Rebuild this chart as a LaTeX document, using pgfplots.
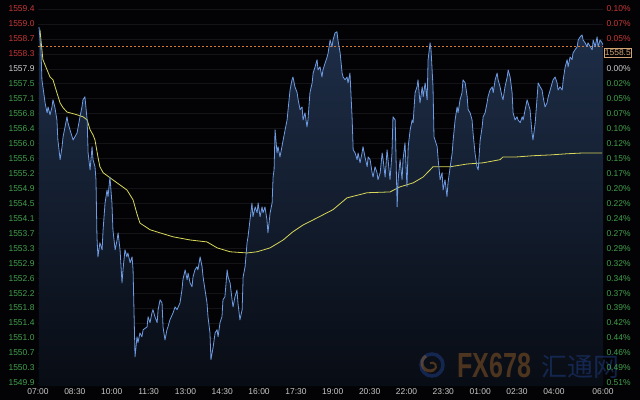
\documentclass[border=0pt]{standalone}
\usepackage{fontspec}
\setmainfont{Liberation Sans}
\newfontfamily\cjk{Noto Sans CJK SC}
\usepackage{pgfplots}
\pgfplotsset{compat=1.18}
\usepackage{pgfplotstable}
\definecolor{bg}{RGB}{3,3,5}
\definecolor{pricecol}{RGB}{110,155,225}
\definecolor{avgcol}{RGB}{215,215,90}
\definecolor{upcol}{RGB}{200,55,55}
\definecolor{dncol}{RGB}{65,160,75}
\definecolor{neutral}{RGB}{205,205,205}
\definecolor{xlab}{RGB}{200,200,200}
\definecolor{gridc}{RGB}{20,20,24}
\definecolor{areatop}{RGB}{30,46,72}
\definecolor{areabot}{RGB}{8,12,20}
\definecolor{lastcol}{RGB}{215,120,50}
\definecolor{boxcol}{RGB}{210,165,115}
\definecolor{wmorange}{RGB}{160,100,40}
\definecolor{wmblue}{RGB}{35,70,150}

\pgfplotstableread{
h v
0.04 1558.94
0.12 1558.36
0.16 1557.60
0.20 1557.42
0.29 1557.01
0.37 1556.76
0.41 1556.91
0.49 1556.71
0.57 1556.91
0.61 1557.09
0.69 1556.89
0.77 1556.58
0.81 1556.07
0.90 1555.57
0.98 1555.90
1.02 1556.15
1.10 1556.40
1.18 1556.66
1.22 1556.51
1.30 1556.33
1.43 1556.07
1.59 1556.25
1.71 1556.66
1.79 1556.91
1.83 1557.09
1.91 1557.17
2.00 1556.58
2.04 1555.74
2.12 1555.31
2.20 1555.90
2.24 1555.57
2.32 1555.39
2.36 1555.06
2.40 1553.61
2.44 1553.10
2.52 1553.46
2.61 1553.28
2.65 1553.79
2.73 1554.47
2.81 1554.80
2.85 1554.63
2.93 1555.13
3.01 1554.47
3.05 1553.79
3.14 1553.28
3.22 1553.53
3.26 1553.71
3.34 1553.28
3.42 1552.44
3.46 1552.77
3.54 1553.28
3.62 1553.10
3.66 1553.20
3.75 1552.95
3.83 1553.10
3.87 1552.77
3.95 1550.56
4.03 1551.07
4.07 1550.92
4.15 1551.17
4.23 1551.07
4.28 1551.25
4.44 1551.32
4.48 1551.58
4.56 1551.43
4.64 1551.68
4.68 1551.76
4.76 1551.58
4.85 1551.43
4.89 1551.76
4.97 1552.01
5.05 1551.93
5.09 1551.32
5.17 1550.99
5.25 1551.25
5.29 1551.32
5.37 1551.50
5.50 1551.68
5.58 1551.83
5.66 1551.76
5.78 1551.93
5.86 1552.26
5.90 1552.52
5.99 1552.77
6.07 1552.52
6.11 1552.69
6.19 1552.44
6.27 1552.34
6.31 1552.59
6.39 1552.77
6.47 1552.85
6.51 1552.77
6.60 1553.10
6.68 1552.85
6.72 1552.59
6.80 1552.26
6.88 1551.93
6.92 1551.58
7.00 1551.17
7.04 1550.49
7.13 1550.81
7.21 1551.17
7.29 1551.25
7.33 1551.07
7.41 1551.43
7.49 1551.58
7.53 1552.01
7.61 1552.09
7.70 1552.77
7.74 1552.59
7.82 1552.44
7.90 1552.01
7.94 1551.83
8.02 1552.09
8.10 1552.26
8.14 1551.93
8.22 1551.50
8.31 1551.76
8.35 1552.59
8.43 1552.85
8.51 1553.46
8.55 1553.61
8.63 1554.04
8.71 1554.47
8.75 1554.12
8.84 1554.37
8.92 1554.22
8.96 1554.47
9.04 1554.12
9.12 1554.37
9.16 1554.22
9.24 1554.37
9.32 1554.04
9.36 1553.71
9.45 1554.22
9.53 1554.47
9.57 1555.13
9.61 1555.31
9.65 1556.33
9.73 1555.74
9.77 1555.90
9.85 1555.64
9.93 1555.90
9.98 1556.07
10.06 1556.33
10.14 1556.58
10.18 1556.84
10.26 1557.34
10.34 1557.60
10.38 1557.67
10.46 1557.42
10.55 1557.27
10.59 1557.09
10.67 1556.84
10.75 1556.91
10.79 1556.58
10.87 1556.76
10.95 1556.40
10.99 1556.58
11.07 1557.27
11.16 1557.52
11.20 1557.77
11.28 1557.93
11.36 1558.11
11.40 1557.85
11.48 1557.93
11.56 1557.67
11.60 1557.85
11.69 1558.03
11.77 1558.18
11.81 1558.28
11.89 1558.61
11.97 1558.44
12.01 1558.61
12.09 1558.79
12.17 1558.82
12.21 1558.61
12.30 1558.28
12.38 1557.77
12.42 1557.67
12.50 1557.60
12.58 1557.67
12.62 1557.52
12.70 1557.77
12.79 1556.58
12.83 1555.82
12.91 1555.74
12.99 1555.57
13.03 1555.74
13.11 1555.49
13.19 1555.74
13.23 1555.90
13.31 1555.64
13.40 1555.39
13.44 1555.64
13.52 1555.57
13.60 1555.24
13.64 1555.13
13.72 1555.39
13.80 1555.24
13.84 1555.06
13.93 1555.24
14.01 1555.74
14.05 1555.57
14.13 1555.13
14.21 1555.82
14.25 1555.57
14.33 1555.06
14.41 1555.74
14.45 1556.66
14.54 1556.58
14.62 1554.37
14.66 1555.06
14.74 1555.57
14.82 1555.06
14.86 1555.57
14.94 1556.00
15.02 1554.88
15.07 1555.90
15.15 1556.33
15.23 1556.58
15.27 1556.51
15.35 1557.27
15.43 1557.42
15.47 1557.60
15.55 1557.01
15.64 1557.42
15.68 1557.17
15.76 1557.52
15.84 1557.09
15.88 1558.11
15.96 1558.54
16.00 1558.36
16.08 1557.42
16.12 1556.15
16.25 1555.90
16.29 1555.57
16.37 1555.06
16.45 1555.24
16.49 1554.80
16.57 1555.06
16.65 1554.63
16.69 1554.98
16.78 1555.39
16.86 1555.74
16.90 1556.07
16.98 1556.58
17.06 1556.91
17.10 1556.76
17.18 1557.09
17.26 1557.27
17.30 1557.60
17.39 1557.52
17.47 1557.17
17.51 1556.84
17.59 1556.76
17.67 1556.58
17.71 1556.25
17.79 1555.74
17.87 1555.39
17.92 1555.31
18.00 1556.07
18.08 1556.40
18.12 1556.66
18.20 1556.76
18.28 1557.01
18.32 1557.17
18.40 1557.34
18.49 1557.42
18.53 1557.27
18.61 1557.60
18.69 1557.77
18.73 1557.60
18.81 1557.42
18.89 1557.17
18.93 1557.09
19.01 1557.42
19.10 1557.67
19.14 1557.85
19.22 1557.67
19.30 1557.27
19.34 1556.76
19.42 1556.58
19.50 1556.66
19.54 1556.58
19.63 1556.51
19.71 1556.66
19.75 1556.58
19.83 1556.84
19.91 1557.09
19.95 1557.01
20.03 1556.84
20.11 1556.25
20.15 1556.07
20.24 1556.51
20.32 1557.17
20.36 1557.52
20.44 1557.42
20.52 1557.34
20.56 1557.17
20.64 1556.91
20.72 1557.01
20.77 1557.17
20.85 1557.34
20.93 1557.52
20.97 1557.60
21.05 1557.67
21.13 1557.52
21.17 1557.34
21.25 1557.42
21.34 1557.34
21.38 1557.60
21.46 1557.93
21.54 1558.11
21.58 1557.93
21.66 1558.18
21.74 1558.11
21.78 1558.28
21.86 1558.36
21.95 1558.44
21.99 1558.61
22.07 1558.69
22.15 1558.74
22.19 1558.61
22.27 1558.54
22.35 1558.44
22.39 1558.54
22.48 1558.44
22.56 1558.36
22.60 1558.61
22.68 1558.44
22.76 1558.69
22.80 1558.44
22.88 1558.61
22.96 1558.54
23.00 1558.49
}\pricedata

\pgfplotstableread{
h v
0.08 1558.87
0.16 1558.36
0.20 1558.11
0.37 1557.85
0.49 1557.67
0.61 1557.60
0.77 1557.27
0.90 1557.01
1.02 1556.89
1.18 1556.78
1.30 1556.76
1.59 1556.71
1.83 1556.66
2.00 1556.58
2.12 1556.33
2.24 1556.20
2.32 1556.07
2.44 1555.64
2.52 1555.39
2.65 1555.24
2.93 1555.11
3.22 1554.98
3.62 1554.80
3.87 1554.55
4.03 1554.19
4.15 1553.96
4.56 1553.79
4.97 1553.71
5.50 1553.61
6.19 1553.53
6.88 1553.48
7.29 1553.33
7.82 1553.23
8.51 1553.20
8.92 1553.23
9.45 1553.33
9.98 1553.53
10.38 1553.74
10.79 1553.91
11.20 1554.04
12.01 1554.30
12.58 1554.60
13.40 1554.73
14.33 1554.75
14.74 1554.88
15.27 1554.98
15.68 1555.13
15.96 1555.31
16.08 1555.39
16.78 1555.39
17.47 1555.46
18.12 1555.49
18.81 1555.57
18.93 1555.64
19.50 1555.64
20.15 1555.67
20.85 1555.69
21.54 1555.72
22.19 1555.74
22.96 1555.74
}\avgdata

\begin{document}
\begin{tikzpicture}
\fill[bg] (0,0) rectangle (640bp,400bp);
\begin{axis}[
  at={(38bp,14bp)}, anchor=south west,
  scale only axis, width=565bp, height=383bp,
  xmin=0, xmax=23, ymin=1549.82, ymax=1559.55,
  axis line style={draw=none},
  major tick length=0pt,
  tick label style={font=\fontsize{8.5}{10}\selectfont},
  xtick={0,1.5,3,4.5,6,7.5,9,10.5,12,13.5,15,16.5,18,19.5,21,23},
  xticklabels={07:00,08:30,10:00,11:30,13:00,14:30,16:00,17:30,19:00,20:30,22:00,23:30,01:00,02:30,04:00,06:00},
  xticklabel style={text=xlab, yshift=1bp},
  ytick={1559.40,1559.02,1558.64,1558.26,1557.88,1557.50,1557.12,1556.74,1556.36,1555.98,1555.60,1555.22,1554.84,1554.46,1554.08,1553.70,1553.32,1552.94,1552.56,1552.18,1551.80,1551.42,1551.04,1550.66,1550.28,1549.90},
  yticklabels={{\textcolor{upcol}{1559.4}},{\textcolor{upcol}{1559.0}},{\textcolor{upcol}{1558.7}},{\textcolor{upcol}{1558.3}},{\textcolor{neutral}{1557.9}},{\textcolor{dncol}{1557.5}},{\textcolor{dncol}{1557.1}},{\textcolor{dncol}{1556.8}},{\textcolor{dncol}{1556.4}},{\textcolor{dncol}{1556.0}},{\textcolor{dncol}{1555.6}},{\textcolor{dncol}{1555.2}},{\textcolor{dncol}{1554.9}},{\textcolor{dncol}{1554.5}},{\textcolor{dncol}{1554.1}},{\textcolor{dncol}{1553.7}},{\textcolor{dncol}{1553.3}},{\textcolor{dncol}{1552.9}},{\textcolor{dncol}{1552.6}},{\textcolor{dncol}{1552.2}},{\textcolor{dncol}{1551.8}},{\textcolor{dncol}{1551.4}},{\textcolor{dncol}{1551.0}},{\textcolor{dncol}{1550.7}},{\textcolor{dncol}{1550.3}},{\textcolor{dncol}{1549.9}}},
  ymajorgrids, grid style={gridc, line width=0.4pt},
]
\addplot[draw=none, top color=areatop, bottom color=areabot] table[x=h, y=v] {\pricedata} -- (axis cs:23,1549.82) -- (axis cs:0.04,1549.82) -- cycle;
\addplot[lastcol, dash pattern=on 2bp off 2bp, line width=0.6pt] coordinates {(0,1558.45) (23,1558.45)};
\addplot[avgcol, line width=0.8bp, line join=round] table[x=h, y=v] {\avgdata};
\addplot[pricecol, line width=0.8bp, line join=round] table[x=h, y=v] {\pricedata};
\end{axis}
% watermark
\begin{scope}[opacity=0.45]
\draw[wmblue, line width=3.5bp] (432bp,35bp) circle (11bp);
\draw[wmorange, line width=3bp] (426bp,44bp) arc[start angle=120, end angle=300, radius=8bp];
\draw[wmorange, line width=2bp] (434bp,30bp) arc[start angle=-60, end angle=120, radius=4bp];
\node[anchor=base west, inner sep=0, text=wmorange] at (457bp,23bp) {\scalebox{0.72}[1]{\fontsize{35}{35}\selectfont\bfseries FX678}};
\node[anchor=base west, inner sep=0, text=wmblue] at (541bp,24bp) {\cjk\fontsize{26}{26}\selectfont 汇通网};
\end{scope}
\begin{axis}[
  at={(38bp,14bp)}, anchor=south west,
  scale only axis, width=565bp, height=383bp,
  xmin=0, xmax=23, ymin=1549.82, ymax=1559.55,
  axis line style={draw=none},
  major tick length=0pt,
  tick label style={font=\fontsize{8.5}{10}\selectfont},
  xtick=\empty,
  yticklabel pos=right,
  ytick={1559.40,1559.02,1558.64,1557.88,1557.50,1557.12,1556.74,1556.36,1555.98,1555.60,1555.22,1554.84,1554.46,1554.08,1553.70,1553.32,1552.94,1552.56,1552.18,1551.80,1551.42,1551.04,1550.66,1550.28,1549.90},
  yticklabels={{\textcolor{upcol}{0.10\%}},{\textcolor{upcol}{0.07\%}},{\textcolor{upcol}{0.05\%}},{\textcolor{neutral}{0.00\%}},{\textcolor{dncol}{0.02\%}},{\textcolor{dncol}{0.05\%}},{\textcolor{dncol}{0.07\%}},{\textcolor{dncol}{0.10\%}},{\textcolor{dncol}{0.12\%}},{\textcolor{dncol}{0.15\%}},{\textcolor{dncol}{0.17\%}},{\textcolor{dncol}{0.20\%}},{\textcolor{dncol}{0.22\%}},{\textcolor{dncol}{0.24\%}},{\textcolor{dncol}{0.27\%}},{\textcolor{dncol}{0.29\%}},{\textcolor{dncol}{0.32\%}},{\textcolor{dncol}{0.34\%}},{\textcolor{dncol}{0.37\%}},{\textcolor{dncol}{0.39\%}},{\textcolor{dncol}{0.42\%}},{\textcolor{dncol}{0.44\%}},{\textcolor{dncol}{0.46\%}},{\textcolor{dncol}{0.49\%}},{\textcolor{dncol}{0.51\%}}},
]
\end{axis}
\node[anchor=west, draw=boxcol, fill=bg, text=boxcol, inner xsep=0.6bp, inner ysep=1.2bp, line width=0.6pt, font=\fontsize{8.5}{10}\selectfont] at (604bp,347bp) {1558.5};
\pgfresetboundingbox
\useasboundingbox (0,0) rectangle (640bp,400bp);
\end{tikzpicture}
\end{document}
